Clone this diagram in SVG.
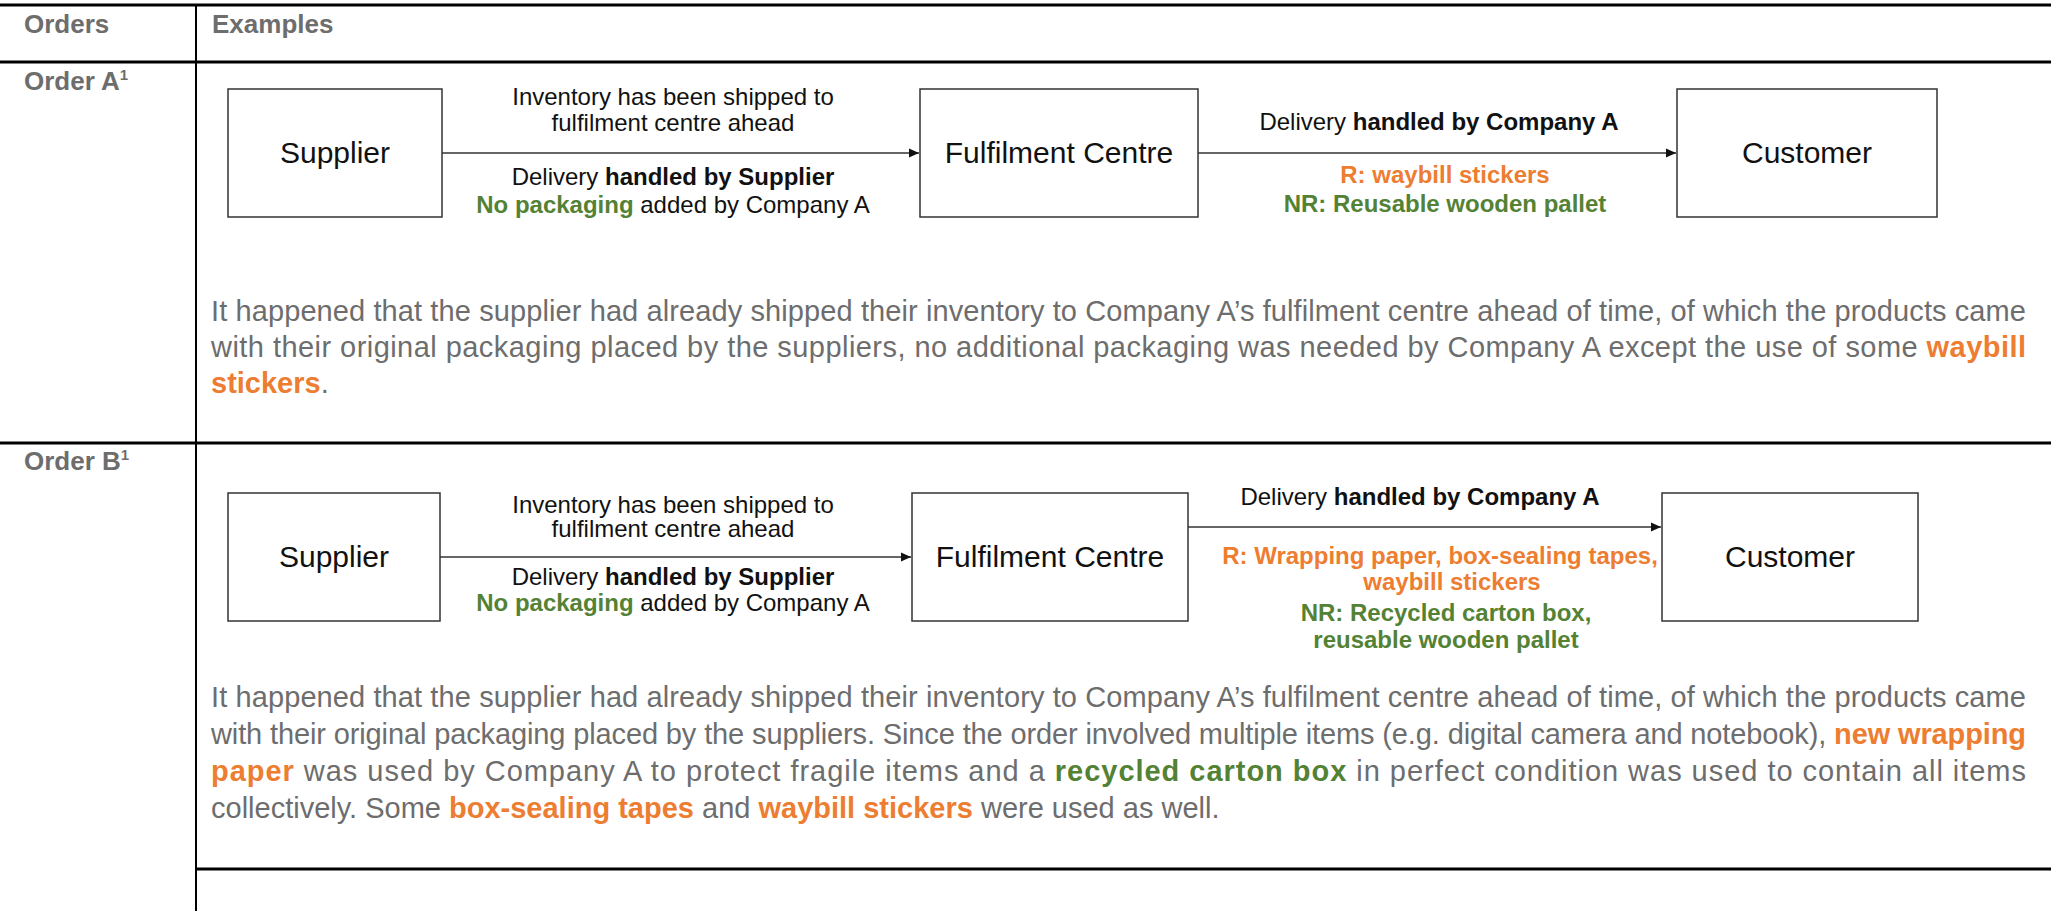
<svg xmlns="http://www.w3.org/2000/svg" width="2051" height="911" viewBox="0 0 2051 911">
<defs>
<style>
text{font-family:"Liberation Sans",Arial,sans-serif}
.tl{stroke:#000;stroke-width:3}
.tv{stroke:#000;stroke-width:2}
.hdr{font-size:26px;font-weight:bold;fill:#6d6d6d}
.sup{font-size:15px;font-weight:bold;fill:#6d6d6d}
.body{font-size:29px;fill:#6d6d6d}
.or{fill:#ED7D31;font-weight:bold}
.gr{fill:#548235;font-weight:bold}
.box{fill:#fff;stroke:#333;stroke-width:1.5}
.nl{font-size:30px;fill:#111;text-anchor:middle}
.lbl{font-size:24px;fill:#111;text-anchor:middle}
.b{font-weight:bold}
.ol{font-size:24px;font-weight:bold;fill:#ED7D31;text-anchor:middle}
.gl{font-size:24px;font-weight:bold;fill:#548235;text-anchor:middle}
.gs{fill:#548235;font-weight:bold}
.conn{stroke:#333;stroke-width:1.5;fill:none;marker-end:url(#ah)}
</style>
<marker id="ah" markerUnits="userSpaceOnUse" markerWidth="11" markerHeight="10" refX="10" refY="5" orient="auto">
<path d="M0,0.5 L10,5 L0,9.5 z" fill="#111"/>
</marker>
</defs>
<rect width="2051" height="911" fill="#fff"/>

<g id="table">
<line class="tl" x1="0" y1="5" x2="2051" y2="5"/>
<line class="tl" x1="0" y1="62" x2="2051" y2="62"/>
<line class="tl" x1="0" y1="443" x2="2051" y2="443"/>
<line class="tl" x1="196" y1="869" x2="2051" y2="869"/>
<line class="tv" x1="196" y1="4" x2="196" y2="911"/>
<text class="hdr" x="24" y="33">Orders</text>
<text class="hdr" x="212" y="33">Examples</text>
<text class="hdr" x="24" y="90">Order A<tspan class="sup" dy="-10">1</tspan></text>
<text class="hdr" x="24" y="470">Order B<tspan class="sup" dy="-10">1</tspan></text>
</g>

<g id="supplier-a"><rect class="box" x="228" y="89" width="214" height="128"/><text class="nl" x="335" y="163">Supplier</text></g>
<g id="fulfilment-a"><rect class="box" x="920" y="89" width="278" height="128"/><text class="nl" x="1059" y="163">Fulfilment Centre</text></g>
<g id="customer-a"><rect class="box" x="1677" y="89" width="260" height="128"/><text class="nl" x="1807" y="163">Customer</text></g>

<g id="supplier-b"><rect class="box" x="228" y="493" width="212" height="128"/><text class="nl" x="334" y="567">Supplier</text></g>
<g id="fulfilment-b"><rect class="box" x="912" y="493" width="276" height="128"/><text class="nl" x="1050" y="567">Fulfilment Centre</text></g>
<g id="customer-b"><rect class="box" x="1662" y="493" width="256" height="128"/><text class="nl" x="1790" y="567">Customer</text></g>

<g id="connectors">
<line class="conn" x1="442" y1="153" x2="919" y2="153"/>
<line class="conn" x1="1198" y1="153" x2="1676" y2="153"/>
<line class="conn" x1="440" y1="557" x2="911" y2="557"/>
<line class="conn" x1="1188" y1="527" x2="1661" y2="527"/>

<text class="lbl" x="673" y="105">Inventory has been shipped to</text>
<text class="lbl" x="673" y="131">fulfilment centre ahead</text>
<text class="lbl" x="673" y="185">Delivery <tspan class="b">handled by Supplier</tspan></text>
<text class="lbl" x="673" y="213"><tspan class="gs">No packaging</tspan> added by Company A</text>

<text class="lbl" x="1439" y="130">Delivery <tspan class="b">handled by Company A</tspan></text>
<text class="ol" x="1445" y="183">R: waybill stickers</text>
<text class="gl" x="1445" y="212">NR: Reusable wooden pallet</text>

<text class="lbl" x="673" y="513">Inventory has been shipped to</text>
<text class="lbl" x="673" y="537">fulfilment centre ahead</text>
<text class="lbl" x="673" y="585">Delivery <tspan class="b">handled by Supplier</tspan></text>
<text class="lbl" x="673" y="611"><tspan class="gs">No packaging</tspan> added by Company A</text>

<text class="lbl" x="1420" y="505">Delivery <tspan class="b">handled by Company A</tspan></text>
<text class="ol" x="1440" y="564">R: Wrapping paper, box-sealing tapes,</text>
<text class="ol" x="1452" y="590">waybill stickers</text>
<text class="gl" x="1446" y="621">NR: Recycled carton box,</text>
<text class="gl" x="1446" y="648">reusable wooden pallet</text>
</g>

<g id="text-a">
<text class="body" x="211" y="321" textLength="1815" lengthAdjust="spacing">It happened that the supplier had already shipped their inventory to Company A’s fulfilment centre ahead of time, of which the products came</text>
<text class="body" x="211" y="357" textLength="1815" lengthAdjust="spacing">with their original packaging placed by the suppliers, no additional packaging was needed by Company A except the use of some <tspan class="or">waybill</tspan></text>
<text class="body" x="211" y="393"><tspan class="or">stickers</tspan>.</text>
</g>

<g id="text-b">
<text class="body" x="211" y="707" textLength="1815" lengthAdjust="spacing">It happened that the supplier had already shipped their inventory to Company A’s fulfilment centre ahead of time, of which the products came</text>
<text class="body" x="211" y="744" textLength="1815" lengthAdjust="spacing">with their original packaging placed by the suppliers. Since the order involved multiple items (e.g. digital camera and notebook), <tspan class="or">new wrapping</tspan></text>
<text class="body" x="211" y="781" textLength="1815" lengthAdjust="spacing"><tspan class="or">paper</tspan> was used by Company A to protect fragile items and a <tspan class="gs">recycled carton box</tspan> in perfect condition was used to contain all items</text>
<text class="body" x="211" y="818">collectively. Some <tspan class="or">box-sealing tapes</tspan> and <tspan class="or">waybill stickers</tspan> were used as well.</text>
</g>
</svg>
